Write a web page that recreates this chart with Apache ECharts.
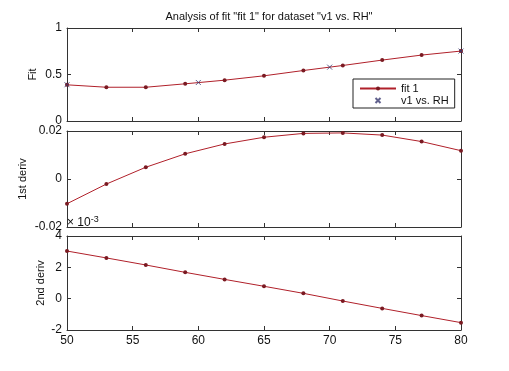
<!DOCTYPE html>
<html>
<head>
<meta charset="utf-8">
<script src="https://cdn.jsdelivr.net/npm/echarts@6/dist/echarts.min.js"></script>
<style>
  html, body { margin: 0; padding: 0; background: #fff; }
  #main { width: 509px; height: 371px; }
</style>
</head>
<body>
<div id="main"></div>
<script>
// fit evaluated every 3 units of RH
const fitX = [50, 53, 56, 59, 62, 65, 68, 71, 74, 77, 80];
const fitY = [0.389, 0.363, 0.363, 0.400, 0.439, 0.486, 0.543, 0.597, 0.655, 0.709, 0.752];
const deriv1 = [-0.0103, -0.0021, 0.0049, 0.0105, 0.0146, 0.0174, 0.0190, 0.0192, 0.0183, 0.0156, 0.0118];
const deriv2 = [3.04, 2.60, 2.15, 1.68, 1.23, 0.79, 0.34, -0.15, -0.62, -1.08, -1.53]; // x 10^-3
// measured data
const dataX = [50, 60, 70, 80];
const dataY = [0.390, 0.414, 0.579, 0.752];
const xTicks = [50, 55, 60, 65, 70, 75, 80];

const axisCol = '#333';
const lineCol = '#b0202a';
const font = { fontFamily: 'Liberation Sans, Arial', fontSize: 11, color: '#111' };

function pairs(xs, ys) { return xs.map((x, i) => [x, ys[i]]); }

const grids = [
  { left: 67, top: 28, width: 394, height: 93 },
  { left: 67, top: 131, width: 394, height: 96 },
  { left: 67, top: 236, width: 394, height: 94 }
];
const yRanges = [
  { min: 0, max: 1, interval: 0.5, name: 'Fit', gap: 29 },
  { min: -0.02, max: 0.02, interval: 0.02, name: '1st deriv', gap: 39 },
  { min: -2, max: 4, interval: 2, name: '2nd deriv', gap: 21 }
];

let xAxis = [], yAxis = [];
grids.forEach((g, i) => {
  [ 'bottom', 'top' ].forEach(pos => {
    xAxis.push({
      type: 'value', gridIndex: i, position: pos, min: 50, max: 80, interval: 5,
      axisLine: { show: true, onZero: false, lineStyle: { color: axisCol, width: 1 } },
      axisTick: { show: true, inside: true, length: 4, lineStyle: { color: axisCol } },
      axisLabel: { show: pos === 'bottom' && i === 2, margin: 5, ...font, fontSize: 12,
        customValues: xTicks },
      splitLine: { show: false }
    });
  });
  const r = yRanges[i];
  [ 'left', 'right' ].forEach(pos => {
    yAxis.push({
      type: 'value', gridIndex: i, position: pos, min: r.min, max: r.max, interval: r.interval,
      name: pos === 'left' ? r.name : '', nameLocation: 'middle', nameGap: r.gap,
      nameMoveOverlap: false,
      nameTextStyle: { ...font },
      axisLine: { show: true, onZero: false, lineStyle: { color: axisCol, width: 1 } },
      axisTick: { show: true, inside: true, length: 4, lineStyle: { color: axisCol } },
      axisLabel: { show: pos === 'left', margin: 5, ...font, fontSize: 12 },
      splitLine: { show: false }
    });
  });
});

const fitStyle = {
  type: 'line', symbol: 'circle', symbolSize: 4, showSymbol: true,
  lineStyle: { color: lineCol, width: 1 },
  itemStyle: { color: '#7a1a22' },
  animation: false
};

const option = {
  animation: false,
  title: {
    text: 'Analysis of fit "fit 1" for dataset "v1 vs. RH"',
    left: 264, top: 6, textAlign: 'center',
    textStyle: { ...font, fontWeight: 'normal' }
  },
  legend: {
    orient: 'vertical', left: 353, top: 79, width: 104,
    padding: [4, 6, 2, 6], itemGap: 1, itemWidth: 36, itemHeight: 5,
    backgroundColor: '#fff', borderColor: '#222', borderWidth: 1, borderRadius: 0,
    textStyle: { ...font },
    data: ['fit 1', 'v1 vs. RH']
  },
  grid: grids,
  xAxis: xAxis,
  yAxis: yAxis,
  graphic: [{
    type: 'text', left: 67, top: 215,
    style: {
      text: '× 10{s|-3}', ...font, fontSize: 12, fill: '#111',
      rich: { s: { fontSize: 9, verticalAlign: 'top', padding: [0, 0, 6, 0] } }
    }
  }],
  series: [
    { ...fitStyle, name: 'fit 1', xAxisIndex: 0, yAxisIndex: 0, data: pairs(fitX, fitY), z: 2 },
    {
      name: 'v1 vs. RH', type: 'scatter', xAxisIndex: 0, yAxisIndex: 0,
      data: pairs(dataX, dataY), symbol: 'path://M0,0L10,10M10,0L0,10', symbolSize: 5,
      itemStyle: { color: 'none', borderColor: '#3a3a70', borderWidth: 1 }, z: 3
    },
    { ...fitStyle, name: 'fit 1 d1', xAxisIndex: 2, yAxisIndex: 2, data: pairs(fitX, deriv1) },
    { ...fitStyle, name: 'fit 1 d2', xAxisIndex: 4, yAxisIndex: 4, data: pairs(fitX, deriv2) }
  ]
};

const chart = echarts.init(document.getElementById('main'));
chart.setOption(option);
window.addEventListener('resize', chart.resize);
</script>
</body>
</html>
